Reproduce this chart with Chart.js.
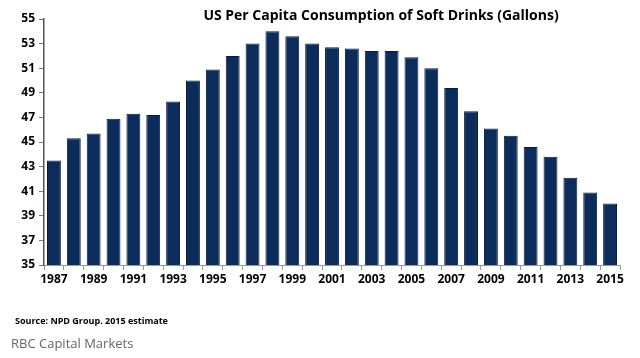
<!DOCTYPE html>
<html>
<head>
<meta charset="utf-8">
<script src="https://cdn.jsdelivr.net/npm/chart.js@4.4.1/dist/chart.umd.min.js"></script>
<style>
  html, body { margin: 0; padding: 0; background: #fff; }
  #wrap { width: 640px; height: 358px; position: relative; }
</style>
</head>
<body>
<div id="wrap"><canvas id="grafico"></canvas></div>
<script>
// DATA
const years = [];
for (let y = 1987; y <= 2015; y++) years.push(String(y));
const gallons = [43.5, 45.3, 45.7, 46.9, 47.3, 47.2, 48.3, 50.0, 50.9, 52.0,
                 53.0, 54.0, 53.6, 53.0, 52.7, 52.6, 52.4, 52.4, 51.9, 51.0,
                 49.4, 47.5, 46.1, 45.5, 44.6, 43.8, 42.1, 40.9, 40.0];
const titleText = 'US Per Capita Consumption of Soft Drinks (Gallons)';
const sourceText = 'Source: NPD Group. 2015 estimate';
const brandText = 'RBC Capital Markets';

// TEXT PLUGIN
const textPlugin = {
    id: 'texts',
    afterDraw(chart) {
        const ctx = chart.ctx;
        ctx.save();
        ctx.fillStyle = '#000';
        ctx.textBaseline = 'middle';
        ctx.textAlign = 'center';
        ctx.font = 'bold 14px "Open Sans", sans-serif';
        ctx.fillText(titleText, 381, 16);
        ctx.textAlign = 'left';
        ctx.font = 'bold 9px "Open Sans", sans-serif';
        ctx.fillText(sourceText, 15, 321);
        ctx.fillStyle = '#666';
        ctx.font = '13px "Open Sans", sans-serif';
        ctx.fillText(brandText, 11, 344);
        ctx.restore();
    }
};

const graphic = document.getElementById('grafico');

new Chart(graphic, {
    type: 'bar',
    data: {
        labels: years,
        datasets: [{
            data: gallons,
            backgroundColor: '#0c2d5c',
            borderColor: '#081c3a',
            borderWidth: 1,
            barPercentage: 0.7,
            categoryPercentage: 1
        }]
    },
    options: {
        responsive: true,
        maintainAspectRatio: false,
        animation: false,
        layout: { padding: { left: 0, right: 20, top: 19, bottom: 68 } },
        plugins: {
            legend: { display: false },
            tooltip: { enabled: false }
        },
        scales: {
            x: {
                grid: { drawOnChartArea: false, tickLength: 5, color: '#999', offset: true },
                border: { color: '#999', width: 1 },
                ticks: {
                    autoSkip: false,
                    maxRotation: 0,
                    color: '#000',
                    font: { family: '"Open Sans", sans-serif', weight: 'bold', size: 12 },
                    padding: 2,
                    callback: (v, i) => i % 2 === 0 ? years[i] : ''
                },
                afterFit: (s) => { s.height = 25; }
            },
            y: {
                min: 35,
                max: 55,
                grid: { drawOnChartArea: false, tickLength: 5, color: '#777' },
                border: { color: '#555', width: 1.5 },
                ticks: {
                    stepSize: 2,
                    color: '#000',
                    font: { family: '"Open Sans", sans-serif', weight: 'bold', size: 12 },
                    padding: 4
                },
                afterFit: (s) => { s.width = 44; }
            }
        }
    },
    plugins: [textPlugin]
});
</script>
</body>
</html>
